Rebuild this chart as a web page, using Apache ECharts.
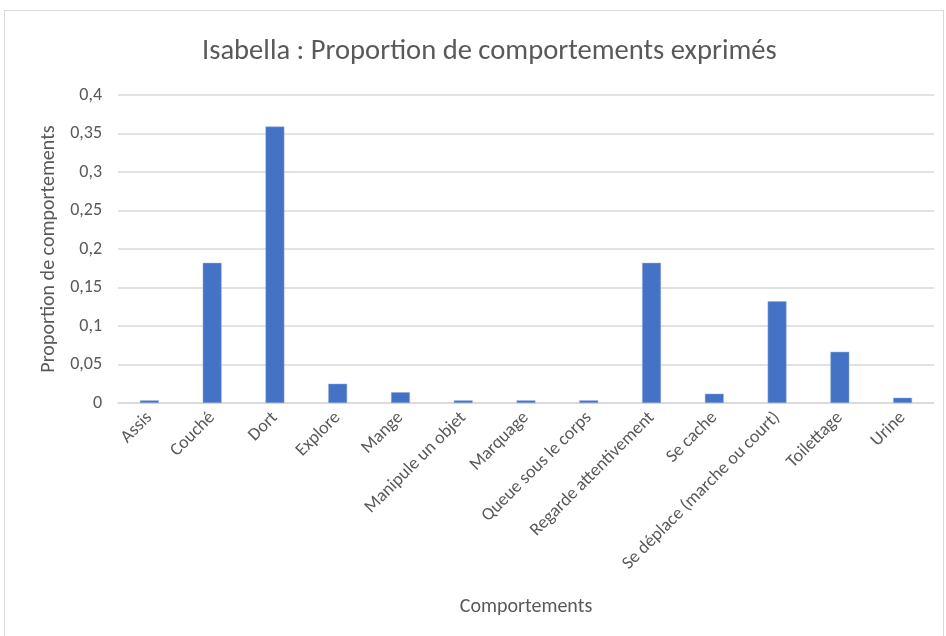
<!DOCTYPE html>
<html>
<head>
<meta charset="utf-8">
<script src="https://cdn.jsdelivr.net/npm/echarts@6/dist/echarts.min.js"></script>
<style>
html,body{margin:0;padding:0;background:#fff;}
#frame{position:absolute;left:4px;top:10px;width:940px;height:640px;border:1px solid #d9d9d9;box-sizing:border-box;}
#chart{position:absolute;left:0;top:0;width:946px;height:636px;}
</style>
</head>
<body>
<div id="frame"></div>
<div id="chart"></div>
<script>
const categories = ["Assis","Couché","Dort","Explore","Mange","Manipule un objet","Marquage","Queue sous le corps","Regarde attentivement","Se cache","Se déplace (marche ou court)","Toilettage","Urine"];
const values = [0.0034,0.182,0.359,0.025,0.014,0.0034,0.0034,0.0034,0.182,0.012,0.132,0.0665,0.0068];
const yTicks = {min:0, max:0.4, interval:0.05};
const titleText = "Isabella : Proportion de comportements exprimés";
const xName = "Comportements";
const yName = "Proportion de comportements";

const FONT = "Carlito, 'Liberation Sans', sans-serif";
const chart = echarts.init(document.getElementById('chart'), null, {renderer:'canvas'});
chart.setOption({
  backgroundColor:'transparent',
  animation:false,
  title:{text:titleText,left:197,top:32,textStyle:{fontFamily:FONT,fontSize:28.6,fontWeight:'normal',color:'#595959'}},
  grid:{left:118,right:12,top:95,bottom:233,containLabel:false},
  xAxis:{type:'category',data:categories,
    name:xName,nameLocation:'middle',nameGap:194,
    nameTextStyle:{fontFamily:FONT,fontSize:20,color:'#595959'},
    axisLine:{lineStyle:{color:'#d9d9d9',width:1.5}},
    axisTick:{show:false},
    axisLabel:{rotate:45,interval:0,margin:12,fontFamily:FONT,fontSize:18,color:'#595959'}},
  yAxis:{type:'value',min:yTicks.min,max:yTicks.max,interval:yTicks.interval,
    name:yName,nameLocation:'middle',nameGap:49,
    nameTextStyle:{fontFamily:FONT,fontSize:20,color:'#595959'},
    axisLine:{show:false},axisTick:{show:false},
    splitLine:{lineStyle:{color:'#d9d9d9',width:1.5}},
    axisLabel:{margin:16,fontFamily:FONT,fontSize:18,color:'#595959',
      formatter:v=>String(Math.round(v*100)/100).replace('.',',')}},
  series:[{type:'bar',data:values,barWidth:'30%',
    itemStyle:{color:'#4472C4',borderColor:'#8faadc',borderWidth:0.5}}]
});
</script>
</body>
</html>
